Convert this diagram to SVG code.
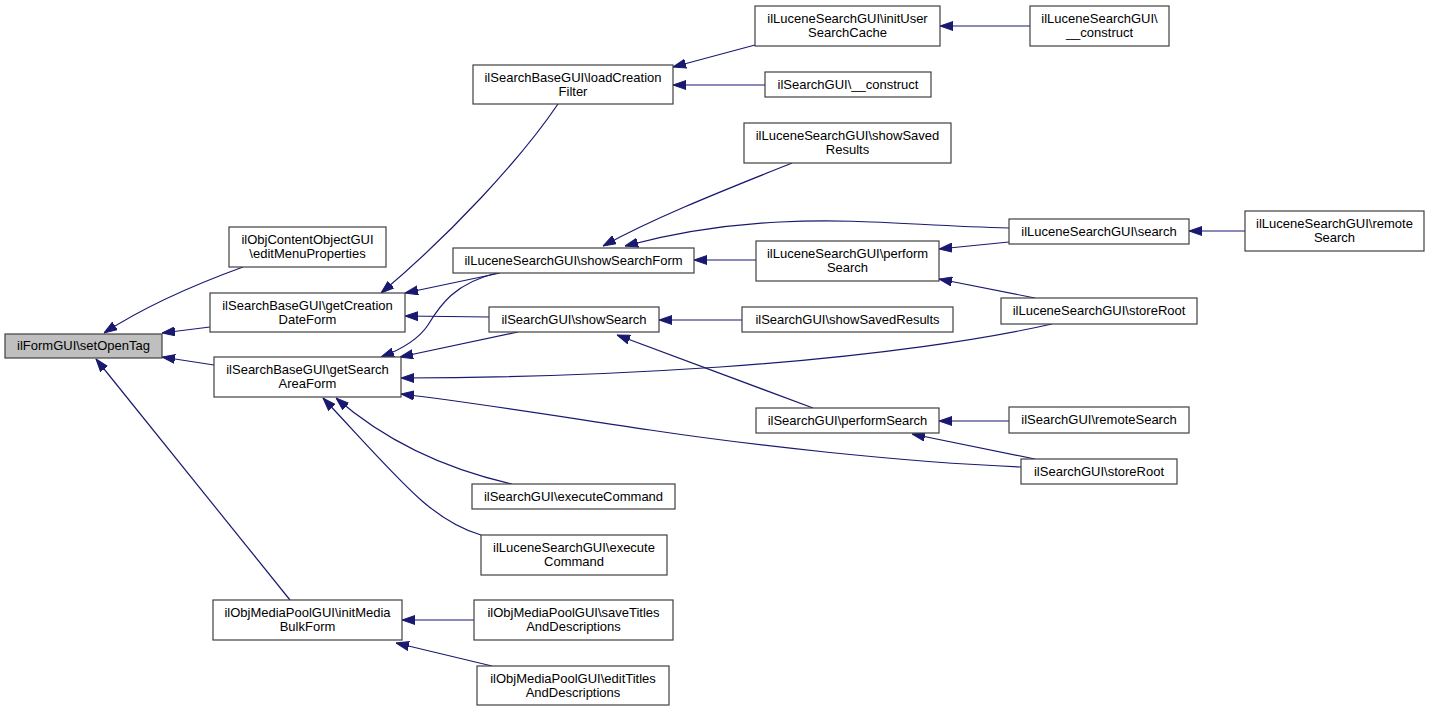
<svg xmlns="http://www.w3.org/2000/svg" width="1429" height="712" viewBox="0 0 1429 712">
<style>
.n rect{fill:#fff;stroke:#404040;stroke-width:1.2}
.n.hl rect{fill:#bfbfbf}
.n text{font-family:"Liberation Sans",Arial,sans-serif;font-size:13px;fill:#000;text-anchor:middle}
.e path{fill:none;stroke:#191970;stroke-width:1.2;marker-end:url(#ah)}
</style>
<defs>
<marker id="ah" markerUnits="userSpaceOnUse" markerWidth="13" markerHeight="10" viewBox="0 0 13 10" refX="13" refY="5" orient="auto">
<path d="M0,0.5 L13,5 L0,9.5 z" fill="#191970" stroke="#191970" stroke-width="1"/>
</marker>
</defs>
<rect width="1429" height="712" fill="#fff"/>
<g id="edges" class="e">
<path d="M243,267 C210,279 150,303 104,333"/>
<path d="M210,327 L162,333"/>
<path d="M214,365 L162,357"/>
<path d="M290,600 L96,359"/>
<path d="M558,104 C520,160 450,235 381,293"/>
<path d="M500,273 L405,293"/>
<path d="M497,273 C455,283 440,305 428,325 C418,340 400,350 381,357"/>
<path d="M489,317 L405,316"/>
<path d="M518,332 L400,357"/>
<path d="M1052,324 C990,338 880,356 720,367 C600,375 500,378 401,378"/>
<path d="M1021,467 C900,462 750,445 650,430 C550,415 470,402 401,394"/>
<path d="M512,484 C450,470 390,445 336,398"/>
<path d="M481,535 C430,520 400,480 323,398"/>
<path d="M755,45 L673,67"/>
<path d="M765,85 L673,85"/>
<path d="M1030,26 L940,26"/>
<path d="M792,163 C730,188 660,215 603,246"/>
<path d="M1009,228 C920,226 860,218 780,222 C720,225 670,234 625,246"/>
<path d="M756,260 L694,260"/>
<path d="M1009,242 L939,249"/>
<path d="M1035,298 L939,279"/>
<path d="M742,320 L659,320"/>
<path d="M813,408 L617,335"/>
<path d="M1009,421 L939,421"/>
<path d="M1035,459 L912,434"/>
<path d="M1245,231 L1189,231"/>
<path d="M474,620 L402,620"/>
<path d="M492,666 L396,643"/>
</g>
<g id="n_setOpenTag" class="n hl"><rect x="5" y="334" width="157" height="24"/><text x="83.5" y="350">ilFormGUI\setOpenTag</text></g>
<g id="n_editMenuProperties" class="n"><rect x="229" y="227" width="157" height="40"/><text x="307.5" y="244">ilObjContentObjectGUI</text><text x="307.5" y="258">\editMenuProperties</text></g>
<g id="n_getCreationDateForm" class="n"><rect x="210" y="293" width="195" height="39"/><text x="307.5" y="310">ilSearchBaseGUI\getCreation</text><text x="307.5" y="324">DateForm</text></g>
<g id="n_getSearchAreaForm" class="n"><rect x="214" y="357" width="187" height="40"/><text x="307.5" y="374">ilSearchBaseGUI\getSearch</text><text x="307.5" y="388">AreaForm</text></g>
<g id="n_initMediaBulkForm" class="n"><rect x="213" y="600" width="189" height="40"/><text x="307.5" y="617">ilObjMediaPoolGUI\initMedia</text><text x="307.5" y="631">BulkForm</text></g>
<g id="n_saveTitles" class="n"><rect x="474" y="600" width="199" height="40"/><text x="573.5" y="617">ilObjMediaPoolGUI\saveTitles</text><text x="573.5" y="631">AndDescriptions</text></g>
<g id="n_editTitles" class="n"><rect x="477" y="666" width="192" height="39"/><text x="573" y="683">ilObjMediaPoolGUI\editTitles</text><text x="573" y="697">AndDescriptions</text></g>
<g id="n_loadCreationFilter" class="n"><rect x="473" y="65" width="200" height="39"/><text x="573" y="82">ilSearchBaseGUI\loadCreation</text><text x="573" y="96">Filter</text></g>
<g id="n_searchConstruct" class="n"><rect x="765" y="72" width="166" height="25"/><text x="848" y="89">ilSearchGUI\__construct</text></g>
<g id="n_luceneShowSavedResults" class="n"><rect x="744" y="123" width="207" height="40"/><text x="847.5" y="140">ilLuceneSearchGUI\showSaved</text><text x="847.5" y="154">Results</text></g>
<g id="n_showSearchForm" class="n"><rect x="453" y="248" width="241" height="25"/><text x="573.5" y="265">ilLuceneSearchGUI\showSearchForm</text></g>
<g id="n_lucenePerformSearch" class="n"><rect x="756" y="241" width="183" height="40"/><text x="847.5" y="258">ilLuceneSearchGUI\perform</text><text x="847.5" y="272">Search</text></g>
<g id="n_showSearch" class="n"><rect x="489" y="307" width="170" height="25"/><text x="574" y="324">ilSearchGUI\showSearch</text></g>
<g id="n_searchShowSavedResults" class="n"><rect x="742" y="307" width="211" height="25"/><text x="847.5" y="324">ilSearchGUI\showSavedResults</text></g>
<g id="n_searchPerformSearch" class="n"><rect x="756" y="408" width="183" height="25"/><text x="847.5" y="425">ilSearchGUI\performSearch</text></g>
<g id="n_searchExecuteCommand" class="n"><rect x="472" y="484" width="203" height="25"/><text x="573.5" y="501">ilSearchGUI\executeCommand</text></g>
<g id="n_luceneExecuteCommand" class="n"><rect x="481" y="535" width="186" height="40"/><text x="574" y="552">ilLuceneSearchGUI\execute</text><text x="574" y="566">Command</text></g>
<g id="n_initUserSearchCache" class="n"><rect x="755" y="6" width="185" height="40"/><text x="847.5" y="23">ilLuceneSearchGUI\initUser</text><text x="847.5" y="37">SearchCache</text></g>
<g id="n_luceneConstruct" class="n"><rect x="1030" y="6" width="139" height="40"/><text x="1099.5" y="23">ilLuceneSearchGUI\</text><text x="1099.5" y="37">__construct</text></g>
<g id="n_luceneSearch" class="n"><rect x="1009" y="219" width="180" height="25"/><text x="1099" y="236">ilLuceneSearchGUI\search</text></g>
<g id="n_luceneRemoteSearch" class="n"><rect x="1245" y="211" width="179" height="40"/><text x="1334.5" y="228">ilLuceneSearchGUI\remote</text><text x="1334.5" y="242">Search</text></g>
<g id="n_luceneStoreRoot" class="n"><rect x="1001" y="298" width="196" height="26"/><text x="1099" y="315">ilLuceneSearchGUI\storeRoot</text></g>
<g id="n_searchRemoteSearch" class="n"><rect x="1009" y="407" width="180" height="26"/><text x="1099" y="424">ilSearchGUI\remoteSearch</text></g>
<g id="n_searchStoreRoot" class="n"><rect x="1021" y="459" width="156" height="25"/><text x="1099" y="476">ilSearchGUI\storeRoot</text></g>
</svg>
